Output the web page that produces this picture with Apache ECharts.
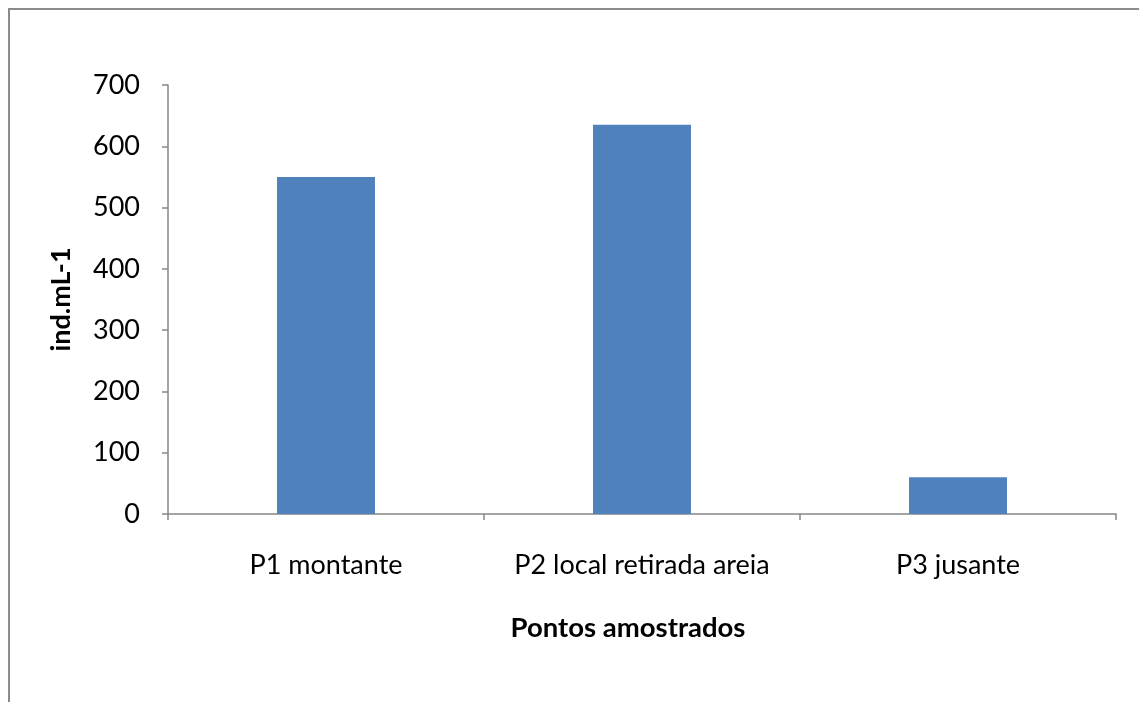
<!DOCTYPE html>
<html>
<head>
<meta charset="utf-8">
<script src="https://cdn.jsdelivr.net/npm/echarts@6/dist/echarts.min.js"></script>
<style>
  html, body { margin: 0; padding: 0; background: #fff; }
  #chart { width: 1139px; height: 702px; }
</style>
</head>
<body>
<div id="chart"></div>
<script>
// Densidade por ponto amostrado
const categories = ['P1 montante', 'P2 local retirada areia', 'P3 jusante'];
const values = [550, 635, 60];
const yTicks = [0, 100, 200, 300, 400, 500, 600, 700];

const font = 'Lato, "Open Sans", sans-serif';
const axisGray = '#868686';

const chart = echarts.init(document.getElementById('chart'), null, { renderer: 'canvas' });
chart.setOption({
  backgroundColor: '#ffffff',
  animation: false,
  grid: { left: 168, right: 23, top: 85, bottom: 188, containLabel: false },
  graphic: [
    {
      type: 'polyline',
      shape: { points: [[9, 702], [9, 9], [1139, 9]] },
      style: { stroke: '#8c8c8c', lineWidth: 2, fill: null },
      silent: true
    },
    {
      type: 'text',
      x: 628,
      y: 628,
      style: {
        text: 'Pontos amostrados',
        font: 'bold 27.5px ' + font,
        fill: '#000',
        align: 'center',
        verticalAlign: 'middle'
      }
    }
  ],
  xAxis: {
    type: 'category',
    data: categories,
    axisLine: { lineStyle: { color: axisGray, width: 1.5 } },
    axisTick: { show: true, interval: 0, length: 6, alignWithLabel: false, lineStyle: { color: axisGray, width: 1.5 } },
    axisLabel: { interval: 0, hideOverlap: false, margin: 38, fontSize: 27, fontFamily: font, color: '#000' }
  },
  yAxis: {
    type: 'value',
    min: yTicks[0],
    max: yTicks[yTicks.length - 1],
    interval: 100,
    name: 'ind.mL-1',
    nameLocation: 'middle',
    nameGap: 93,
    nameRotate: 90,
    nameTextStyle: { fontSize: 27, fontWeight: 'bold', fontFamily: font, color: '#000' },
    axisLine: { show: true, lineStyle: { color: axisGray, width: 1.5 } },
    axisTick: { show: true, length: 6, lineStyle: { color: axisGray, width: 1.5 } },
    axisLabel: { margin: 28, fontSize: 27, fontFamily: font, color: '#000' },
    splitLine: { show: false }
  },
  series: [{
    type: 'bar',
    data: values,
    barWidth: '31%',
    itemStyle: { color: '#4f81bd' }
  }]
});
</script>
</body>
</html>
